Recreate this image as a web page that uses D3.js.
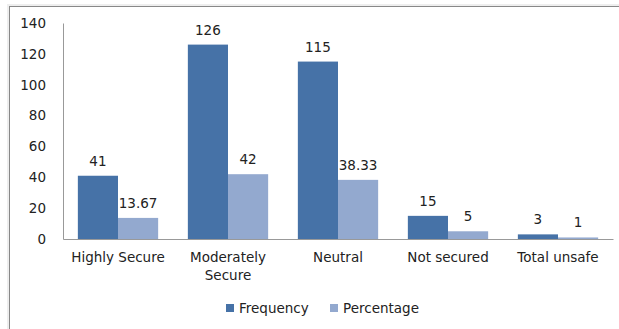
<!DOCTYPE html>
<html>
<head>
<meta charset="utf-8">
<script src="https://cdn.jsdelivr.net/npm/d3@7"></script>
<style>
  body { margin: 0; background: #fff; }
  text { font-family: "DejaVu Sans", sans-serif; fill: #222; }
</style>
</head>
<body>
<svg width="619" height="329"></svg>
<script>
// data
var categories = ["Highly Secure", "Moderately Secure", "Neutral", "Not secured", "Total unsafe"];
var frequency = [41, 126, 115, 15, 3];
var percentage = [13.67, 42, 38.33, 5, 1];
var seriesNames = ["Frequency", "Percentage"];
var yTicks = [0, 20, 40, 60, 80, 100, 120, 140];

var colors = ["#4672A7", "#93A9CF"];
var fontSize = "13.5px";

var svg = d3.select("svg");

// frame with a little shadow
svg.append("rect")
  .attr("x", 7).attr("y", 4).attr("width", 640).attr("height", 360)
  .attr("fill", "#eee");
svg.append("rect")
  .attr("x", 9.5).attr("y", 6.5).attr("width", 640).attr("height", 360)
  .attr("fill", "#fff").attr("stroke", "#888");

var plotLeft = 63, plotRight = 613, plotTop = 23, plotBottom = 239;

var x = d3.scaleBand().domain(categories).range([plotLeft, plotRight]).paddingInner(0.27).paddingOuter(0.135);
var xs = d3.scaleBand().domain(seriesNames).range([0, x.bandwidth()]);
var y = d3.scaleLinear().domain([0, 140]).range([plotBottom, plotTop]);

// axes
var yAxis = svg.append("g")
  .attr("transform", "translate(" + plotLeft + ",0)")
  .call(d3.axisLeft(y).tickValues(yTicks).tickSize(0).tickPadding(17));
yAxis.select(".domain").attr("stroke", "#999");
yAxis.selectAll("text").style("font-size", fontSize);

var xAxis = svg.append("g")
  .attr("transform", "translate(0," + plotBottom + ")")
  .call(d3.axisBottom(x).tickSize(0).tickPadding(13));
xAxis.select(".domain").attr("stroke", "#999");
xAxis.selectAll("text")
  .style("font-size", fontSize)
  .each(function(d) {
    var t = d3.select(this);
    if (d === "Moderately Secure") {
      t.text(null);
      t.append("tspan").attr("x", 0).attr("dy", "0.71em").text("Moderately");
      t.append("tspan").attr("x", 0).attr("dy", "1.35em").text("Secure");
    }
  });

// bars
var rows = categories.map(function(c, i) {
  return { cat: c, values: [frequency[i], percentage[i]] };
});

var groups = svg.append("g").selectAll("g")
  .data(rows)
  .enter().append("g")
  .attr("transform", function(d) { return "translate(" + x(d.cat) + ",0)"; });

groups.selectAll("rect")
  .data(function(d) { return d.values.map(function(v, j) { return { s: seriesNames[j], v: v, j: j }; }); })
  .enter().append("rect")
  .attr("x", function(d) { return xs(d.s); })
  .attr("y", function(d) { return y(d.v); })
  .attr("width", xs.bandwidth())
  .attr("height", function(d) { return plotBottom - y(d.v); })
  .attr("fill", function(d) { return colors[d.j]; });

groups.selectAll("text.val")
  .data(function(d) { return d.values.map(function(v, j) { return { s: seriesNames[j], v: v }; }); })
  .enter().append("text")
  .attr("class", "val")
  .attr("x", function(d) { return xs(d.s) + xs.bandwidth() / 2; })
  .attr("y", function(d) { return y(d.v) - 10; })
  .attr("text-anchor", "middle")
  .style("font-size", fontSize)
  .text(function(d) { return d.v; });

// legend
var legendX = [226, 330];
var legend = svg.append("g").selectAll("g")
  .data(seriesNames)
  .enter().append("g")
  .attr("transform", function(d, i) { return "translate(" + legendX[i] + ",308)"; });
legend.append("rect")
  .attr("x", 0).attr("y", -4).attr("width", 8).attr("height", 8)
  .attr("fill", function(d, i) { return colors[i]; });
legend.append("text")
  .attr("x", 13).attr("dy", "0.35em")
  .style("font-size", fontSize)
  .text(function(d) { return d; });
</script>
</body>
</html>
